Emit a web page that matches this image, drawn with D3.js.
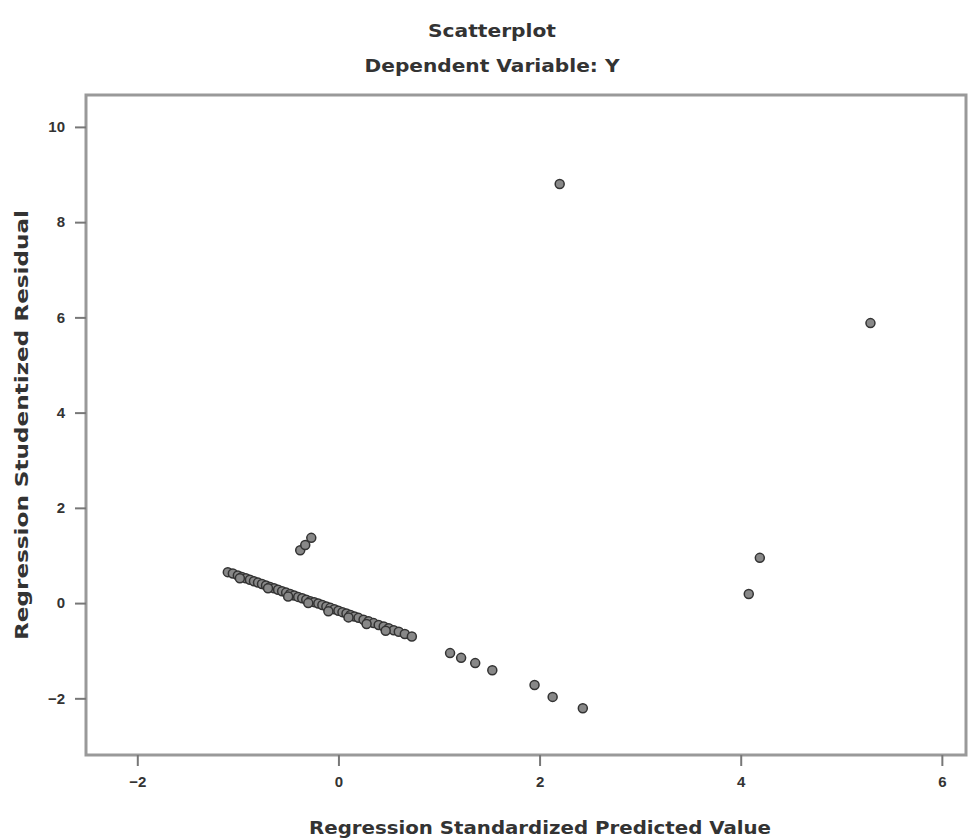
<!DOCTYPE html>
<meta charset="utf-8">
<style>
body { margin: 0; background: #fff; }
.tick text { font: bold 15px "Liberation Sans", Arial, sans-serif; fill: #333; }
.tick line { stroke: #777; stroke-width: 2px; }
.title { font-family: "DejaVu Sans", sans-serif; font-weight: bold; fill: #333; }
</style>
<body>
<script src="https://d3js.org/d3.v7.min.js"></script>
<script>

// tick labels
const xTicks = [-2, 0, 2, 4, 6];
const yTicks = [-2, 0, 2, 4, 6, 8, 10];

// cases: standardized predicted value / studentized residual
const predicted = [-1.10, -1.05, -1.00, -0.96, -0.92, -0.88, -0.84, -0.80, -0.76, -0.72,
  -0.68, -0.64, -0.60, -0.56, -0.52, -0.48, -0.44, -0.40, -0.36, -0.32, -0.28, -0.24,
  -0.20, -0.16, -0.12, -0.08, -0.04, 0.00, 0.04, 0.08, 0.12, 0.16, 0.20, 0.25, 0.30,
  0.35, 0.40, 0.45, 0.50, 0.55, 0.60, 0.66, 0.73,
  -0.98, -0.70, -0.50, -0.30, -0.10, 0.10, 0.28, 0.47,
  1.11, 1.22, 1.36, 1.53, 1.95, 2.13, 2.43,
  -0.38, -0.33, -0.27,
  2.20, 5.29, 4.19, 4.08];
const residual = [0.65, 0.62, 0.58, 0.55, 0.52, 0.49, 0.46, 0.43, 0.40, 0.37,
  0.34, 0.31, 0.28, 0.25, 0.22, 0.19, 0.16, 0.13, 0.10, 0.07, 0.04, 0.02,
  -0.01, -0.04, -0.07, -0.10, -0.13, -0.16, -0.19, -0.22, -0.25, -0.28, -0.31, -0.35, -0.38,
  -0.42, -0.46, -0.49, -0.53, -0.57, -0.60, -0.65, -0.70,
  0.52, 0.31, 0.14, 0.00, -0.17, -0.30, -0.44, -0.58,
  -1.05, -1.15, -1.26, -1.41, -1.72, -1.97, -2.21,
  1.11, 1.22, 1.37,
  8.80, 5.88, 0.95, 0.19];

const width = 971, height = 839;
const margin = {top: 95, right: 5, bottom: 84, left: 86};

const svg = d3.select("body").append("svg")
    .attr("width", width)
    .attr("height", height);

const x = d3.scaleLinear().domain([-2.51, 6.24]).range([margin.left, width - margin.right]);
const y = d3.scaleLinear().domain([-3.19, 10.67]).range([height - margin.bottom, margin.top]);

// titles
svg.append("text").attr("class", "title")
    .attr("x", 492).attr("y", 37).attr("text-anchor", "middle")
    .style("font-size", "17px")
    .attr("textLength", 128).attr("lengthAdjust", "spacingAndGlyphs")
    .text("Scatterplot");
svg.append("text").attr("class", "title")
    .attr("x", 492).attr("y", 72).attr("text-anchor", "middle")
    .style("font-size", "17px")
    .attr("textLength", 255).attr("lengthAdjust", "spacingAndGlyphs")
    .text("Dependent Variable: Y");

// frame
svg.append("rect")
    .attr("x", margin.left).attr("y", margin.top)
    .attr("width", width - margin.right - margin.left)
    .attr("height", height - margin.bottom - margin.top)
    .attr("fill", "none")
    .attr("stroke", "#999")
    .attr("stroke-width", 3);

// axes
const xAxis = svg.append("g")
    .attr("transform", "translate(0," + (height - margin.bottom) + ")")
    .call(d3.axisBottom(x).tickValues(xTicks).tickSize(11).tickPadding(10));
xAxis.select(".domain").remove();

const yAxis = svg.append("g")
    .attr("transform", "translate(" + margin.left + ",0)")
    .call(d3.axisLeft(y).tickValues(yTicks).tickSize(11).tickPadding(10));
yAxis.select(".domain").remove();

// axis titles
svg.append("text").attr("class", "title")
    .attr("x", 540).attr("y", 834).attr("text-anchor", "middle")
    .style("font-size", "18px")
    .attr("textLength", 462).attr("lengthAdjust", "spacingAndGlyphs")
    .text("Regression Standardized Predicted Value");
svg.append("text").attr("class", "title")
    .attr("transform", "translate(28,425) rotate(-90)")
    .attr("text-anchor", "middle")
    .style("font-size", "18px")
    .attr("textLength", 430).attr("lengthAdjust", "spacingAndGlyphs")
    .text("Regression Studentized Residual");

// points
svg.append("g")
  .selectAll("circle")
  .data(predicted)
  .enter()
  .append("circle")
    .attr("cx", d => x(d))
    .attr("cy", (d, i) => y(residual[i]))
    .attr("r", 4.5)
    .attr("fill", "#888")
    .attr("stroke", "#333")
    .attr("stroke-width", 1.5);

</script>
</body>
